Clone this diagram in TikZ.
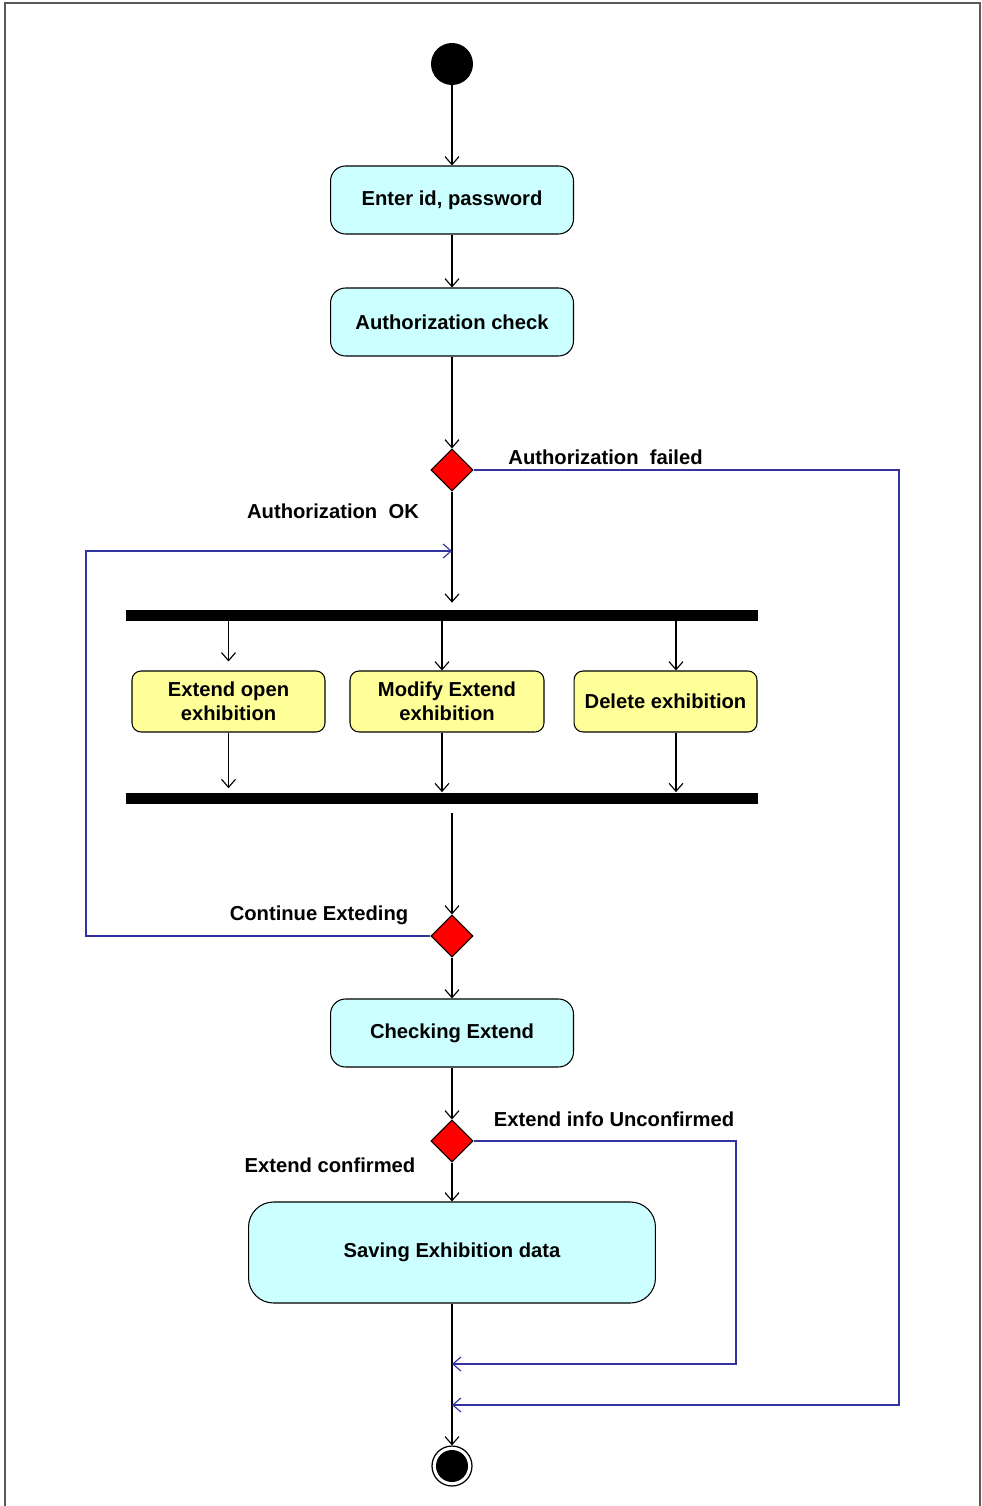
\documentclass[tikz,border=0pt]{standalone}
\usepackage{fontspec}
\setmainfont{Liberation Sans}
\usetikzlibrary{arrows.meta,shapes.geometric}
\definecolor{actcyan}{RGB}{204,255,255}
\definecolor{actyellow}{RGB}{255,255,153}
\definecolor{flowblue}{RGB}{51,51,160}
\tikzset{
    labelfont/.style={font=\fontsize{11.5}{13.5}\selectfont\bfseries},
    action/.style={draw, labelfont, rounded corners=0.3cm, fill=actcyan, minimum width=4.86cm, minimum height=1.36cm, line width=0.6pt},
    task/.style={draw, labelfont, rounded corners=0.18cm, fill=actyellow, align=center, minimum height=1.22cm, inner sep=1pt, line width=0.6pt},
    decision/.style={draw, diamond, fill=red, minimum width=0.84cm, minimum height=0.84cm, inner sep=0pt, line width=0.6pt},
    syncbar/.style={fill=black, minimum width=12.64cm, minimum height=0.22cm, inner sep=0pt},
    flow/.style={-{Straight Barb[length=1.6mm,width=2.8mm]}, line width=0.65pt},
    back/.style={flow, draw=flowblue},
    guard/.style={labelfont, inner sep=0pt},
}
\begin{document}
\begin{tikzpicture}[x=0.02cm, y=-0.02cm]
    \useasboundingbox (0,0) rectangle (981,1506);
    \draw[gray!70!black, line width=0.8pt] (5,1506) -- (5,3) -- (980,3) -- (980,1506);

    \node[circle, fill=black, minimum size=0.84cm] (start) at (452,64) {};
    \node[action] (enter) at (452,200) {Enter id, password};
    \node[action] (auth) at (452,322) {Authorization check};
    \node[decision] (dec1) at (452,470) {};
    \node[syncbar] (fork) at (442,615.5) {};
    \node[task, minimum width=3.86cm] (openext) at (228.5,701.5) {Extend open\\exhibition};
    \node[task, minimum width=3.88cm] (modext) at (447,701.5) {Modify Extend\\exhibition};
    \node[task, minimum width=3.66cm] (delext) at (665.5,701.5) {Delete exhibition};
    \node[syncbar] (join) at (442,798) {};
    \node[decision] (dec2) at (452,936) {};
    \node[action] (check) at (452,1033) {Checking Extend};
    \node[decision] (dec3) at (452,1141) {};
    \node[action, minimum width=8.14cm, minimum height=2.02cm, rounded corners=0.5cm] (save) at (452,1252.5) {Saving Exhibition data};
    \node[circle, draw, line width=0.7pt, minimum size=0.8cm] (stop) at (452,1466) {};
    \fill (stop) circle (0.32cm);

    \node[guard] (lfailed) at (605.5,457) {Authorization~ failed};
    \node[guard] (lok) at (333,511) {Authorization~ OK};
    \node[guard] (lcont) at (319,915) {Continue Exteding};
    \node[guard] (lunconf) at (614,1119) {Extend info Unconfirmed};
    \node[guard] (lconf) at (330,1165) {Extend confirmed};

    \coordinate (loopin) at (452,551);
    \coordinate (loopx) at (86,551);
    \coordinate (sidex) at (736,1364);
    \coordinate (ret2) at (452,1364);
    \coordinate (farx) at (899,1405);
    \coordinate (ret1) at (452,1405);

    \draw[flow] (start) -- (enter);
    \draw[flow] (enter) -- (auth);
    \draw[flow] (auth) -- (dec1);
    \draw[flow, shorten >=0.14cm] (dec1) -- (fork.north -| dec1);
    \draw[flow, shorten >=0.18cm] (fork.south -| openext) -- (openext);
    \draw[flow] (fork.south -| 442,0) -- (modext.north -| 442,0);
    \draw[flow] (fork.south -| 676,0) -- (delext.north -| 676,0);
    \draw[flow, shorten >=0.08cm] (openext) -- (join.north -| openext);
    \draw[flow] (modext.south -| 442,0) -- (join.north -| 442,0);
    \draw[flow] (delext.south -| 676,0) -- (join.north -| 676,0);
    \draw[flow, shorten <=0.18cm] (join.south -| dec2) -- (dec2);
    \draw[flow] (dec2) -- (check);
    \draw[flow] (check) -- (dec3);
    \draw[flow] (dec3) -- (save);
    \draw[flow] (save) -- (stop);

    \draw[back] (dec1.east) -| (farx) -- (ret1);
    \draw[back] (dec2.west) -| (loopx) -- (loopin);
    \draw[back] (dec3.east) -| (sidex) -- (ret2);
\end{tikzpicture}
\end{document}
